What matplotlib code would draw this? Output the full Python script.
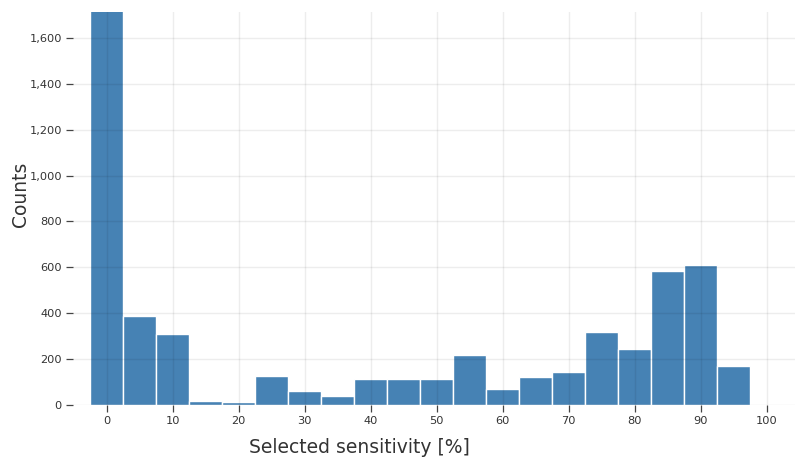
import matplotlib
matplotlib.use("Agg")
import matplotlib.pyplot as plt
from matplotlib.ticker import FuncFormatter

bin_centers = [0, 5, 10, 15, 20, 25, 30, 35, 40, 45, 50, 55, 60, 65, 70, 75, 80, 85, 90, 95]
counts = [1760, 388, 310, 17, 13, 127, 62, 39, 115, 112, 113, 217, 68, 123, 144, 320, 244, 585, 609, 170]
bin_width = 5
x_ticks = [0, 10, 20, 30, 40, 50, 60, 70, 80, 90, 100]
y_ticks = [0, 200, 400, 600, 800, 1000, 1200, 1400, 1600]

fig = plt.figure(figsize=(7.95, 4.57), dpi=100)
ax = fig.add_axes([73 / 795, 1 - 405 / 457, (795 - 73) / 795, (405 - 12) / 457])

ax.bar(bin_centers, counts, width=bin_width, color="#4682b4",
       edgecolor="white", linewidth=1.0, zorder=1)

ax.set_xlim(-5.1, 104.3)
ax.set_ylim(0, 1713)
ax.set_xticks(x_ticks)
ax.set_yticks(y_ticks)
ax.yaxis.set_major_formatter(FuncFormatter(lambda v, p: f"{int(v):,}"))

for s in ax.spines.values():
    s.set_visible(False)
ax.set_axisbelow(False)
ax.grid(True, color="black", alpha=0.07, linewidth=1.0, zorder=3)
ax.tick_params(axis="both", direction="out", length=5, width=0.9, color="#444444",
               labelsize=8.2, labelcolor="#333333", pad=3)

ax.set_xlabel("Selected sensitivity [%]", fontsize=13.5, color="#333333")
ax.xaxis.set_label_coords((359 - 73) / 722, -0.083)
ax.set_ylabel("Counts", fontsize=13.4, color="#333333")
ax.yaxis.set_label_coords(-0.060, (405 - 194) / 393)

fig.savefig("out.png", dpi=100)
